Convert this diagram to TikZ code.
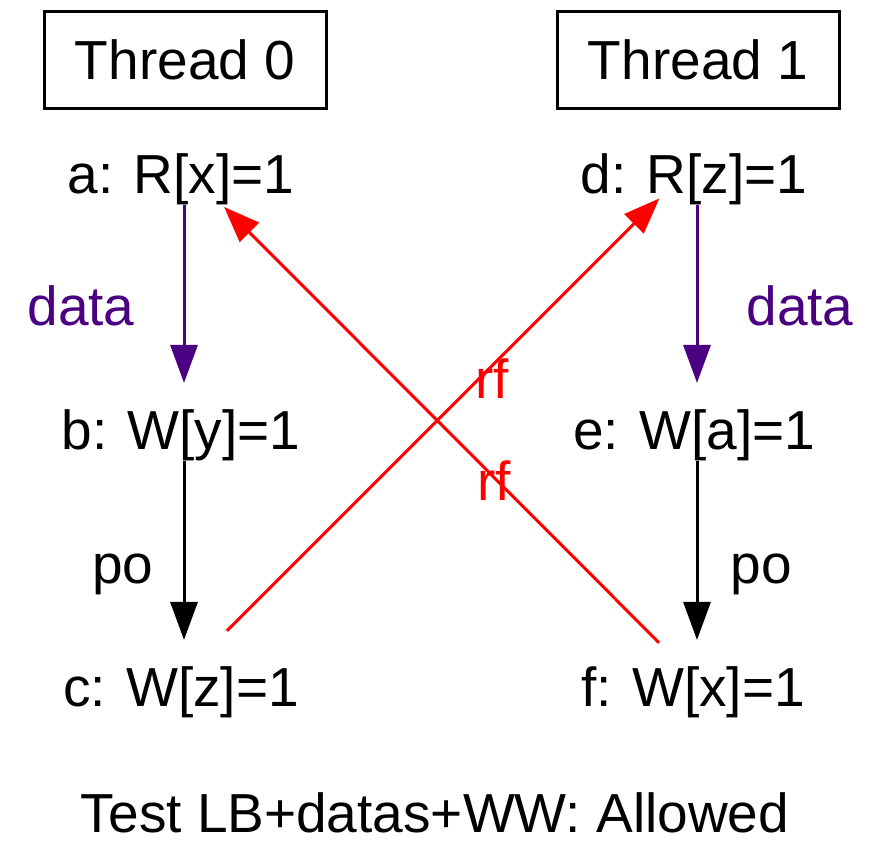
\documentclass[tikz,border=0pt]{standalone}
\usepackage{fontspec}
\setmainfont{Liberation Sans}
\usetikzlibrary{arrows.meta,positioning}

\definecolor{datacol}{RGB}{75,0,130}

\begin{document}
\begin{tikzpicture} [x=1pt,y=-1pt,{every node/.style={font=\fontsize{55}{66}\selectfont}},{evt/.style={inner sep=0pt,anchor=base}},{thr/.style={rectangle,draw=black,line width=3pt,minimum width=282pt,minimum height=96pt,inner sep=0pt}},{datast/.style={color=datacol,line width=3pt,-{Triangle[length=38pt,width=27pt]},shorten >=26pt}},{post/.style={color=black,line width=3pt,-{Triangle[length=38pt,width=27pt]},shorten >=26pt}},{rfst/.style={color=red,line width=3pt,-{Triangle[length=36pt,width=27pt]}}}]
		\useasboundingbox (0,0) rectangle (880,843);
		%%thread headers
		\node at (185,60) [thr] (t0) {Thread 0};
		\node at (698,60) [thr] (t1) {Thread 1};
		%%events
		\node at (181,193) [evt] (a) {a: R[x]=1};
		\node at (181,449) [evt] (b) {b: W[y]=1};
		\node at (181,706) [evt] (c) {c: W[z]=1};
		\node at (694,193) [evt] (d) {d: R[z]=1};
		\node at (694,449) [evt] (e) {e: W[a]=1};
		\node at (693,706) [evt] (f) {f: W[x]=1};
		%%edge labels
		\node at (81,325) [evt,text=datacol] (la) {data};
		\node at (800,325) [evt,text=datacol] (ld) {data};
		\node at (123,583) [evt] (lb) {po};
		\node at (761,583) [evt] (le) {po};
		\node at (492,398) [evt,text=red] (lc) {rf};
		\node at (494,500) [evt,text=red] (lf) {rf};
		%%program order
		\draw [datast] ([xshift=3pt]a.south) -- ([xshift=3pt]b.north);
		\draw [datast] ([xshift=3pt]d.south) -- ([xshift=3pt]e.north);
		\draw [post] ([xshift=3pt]b.south) -- ([xshift=3pt]c.north);
		\draw [post] ([xshift=3pt]e.south) -- ([xshift=4pt]f.north);
		%%reads from
		\draw [rfst,shorten <=65pt,shorten >=49pt] ([yshift=15pt]c.center) -- ([yshift=15pt]d.center);
		\draw [rfst,shorten <=48pt,shorten >=61pt] ([yshift=15pt]f.center) -- ([yshift=15pt]a.center);
		%%caption
		\node at (435,832) [evt] (cap) {Test LB+datas+WW: Allowed};
	\end{tikzpicture}
\end{document}
